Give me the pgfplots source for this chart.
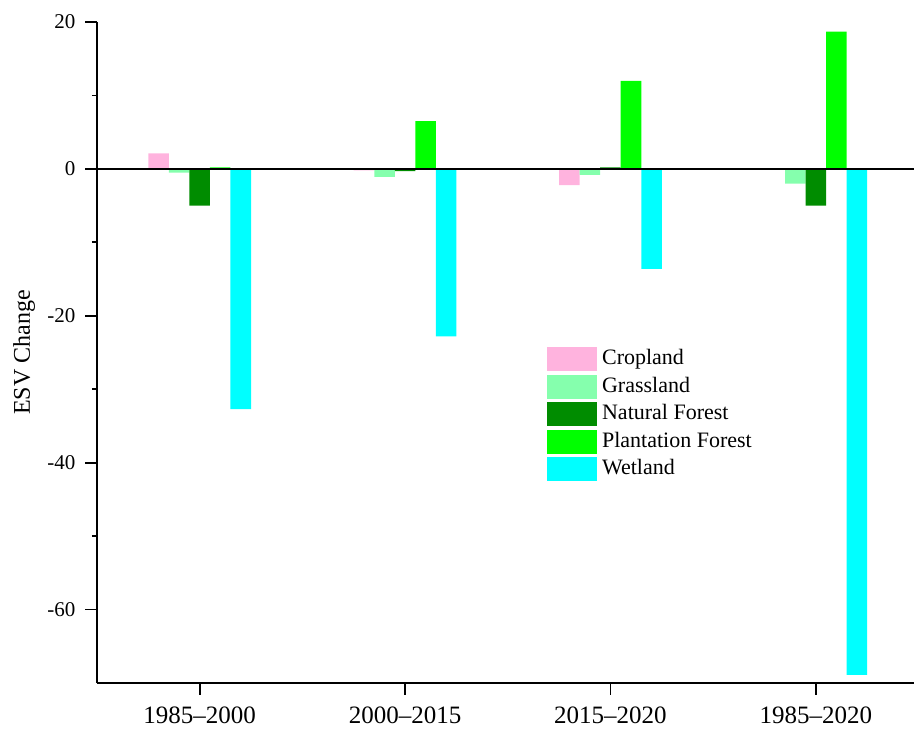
\documentclass[border=0pt]{standalone}
\usepackage{fontspec}
\setmainfont{Liberation Serif}
\usepackage{pgfplots}
\pgfplotsset{compat=1.18}
\definecolor{crop}{HTML}{FFB3DE}
\definecolor{grass}{HTML}{85FFAD}
\definecolor{natf}{HTML}{008C00}
\definecolor{plantf}{HTML}{00FF00}
\definecolor{wet}{HTML}{00FFFF}
\pgfplotsset{mylegend/.style={legend image code/.code={\fill[##1] (0pt,-12pt) rectangle (50pt,12pt);}}}
\begin{document}
\fontsize{21}{25}\selectfont
\begin{tikzpicture}
\useasboundingbox (-97pt,-46pt) rectangle (817pt,683pt);
\begin{axis}[
  at={(0pt,0pt)}, anchor=south west,
  scale only axis, width=817pt, height=661pt,
  xmin=-0.5, xmax=3.478, ymin=-70, ymax=20,
  axis x line*=bottom, axis y line*=left,
  ybar=0pt, bar width=0.1,
  xtick={0,1,2,3},
  xticklabels={1985--2000,2000--2015,2015--2020,1985--2020},
  ytick={-60,-40,-20,0,20}, minor y tick num=1,
  tick align=outside, major tick length=11.5pt, minor tick length=5pt,
  every tick/.style={black, line width=1.8pt},
  axis line style={line width=1.8pt},
  /pgf/number format/assume math mode=true,
  yticklabel style={font=\fontsize{21}{25}\selectfont, xshift=-3pt},
  xticklabel style={font=\fontsize{25}{30}\selectfont, yshift=-5pt},
  ylabel={ESV Change},
  ylabel style={font=\fontsize{24}{28}\selectfont, yshift=-2pt},
  legend style={at={(0.547,0.511)}, anchor=north west, draw=none, fill=none,
    font=\fontsize{22}{26}\selectfont, legend cell align=left,
    nodes={inner xsep=5pt, inner ysep=0pt, text height=16pt, text depth=5pt},
    row sep=3.5pt},
]
\addplot[draw=none, fill=crop, mylegend] coordinates {(0,2.1) (1,-0.2) (2,-2.2) (3,0)};
\addplot[draw=none, fill=grass, mylegend] coordinates {(0,-0.5) (1,-1.1) (2,-0.8) (3,-2.0)};
\addplot[draw=none, fill=natf, mylegend] coordinates {(0,-5.0) (1,-0.3) (2,0.2) (3,-5.0)};
\addplot[draw=none, fill=plantf, mylegend] coordinates {(0,0.2) (1,6.5) (2,12.0) (3,18.7)};
\addplot[draw=none, fill=wet, mylegend] coordinates {(0,-32.7) (1,-22.8) (2,-13.6) (3,-68.9)};
\legend{Cropland,Grassland,Natural Forest,Plantation Forest,Wetland}
\addplot[sharp plot, black, line width=2.5pt, forget plot] coordinates {(-0.5,0) (3.478,0)};
\end{axis}
\end{tikzpicture}
\end{document}
